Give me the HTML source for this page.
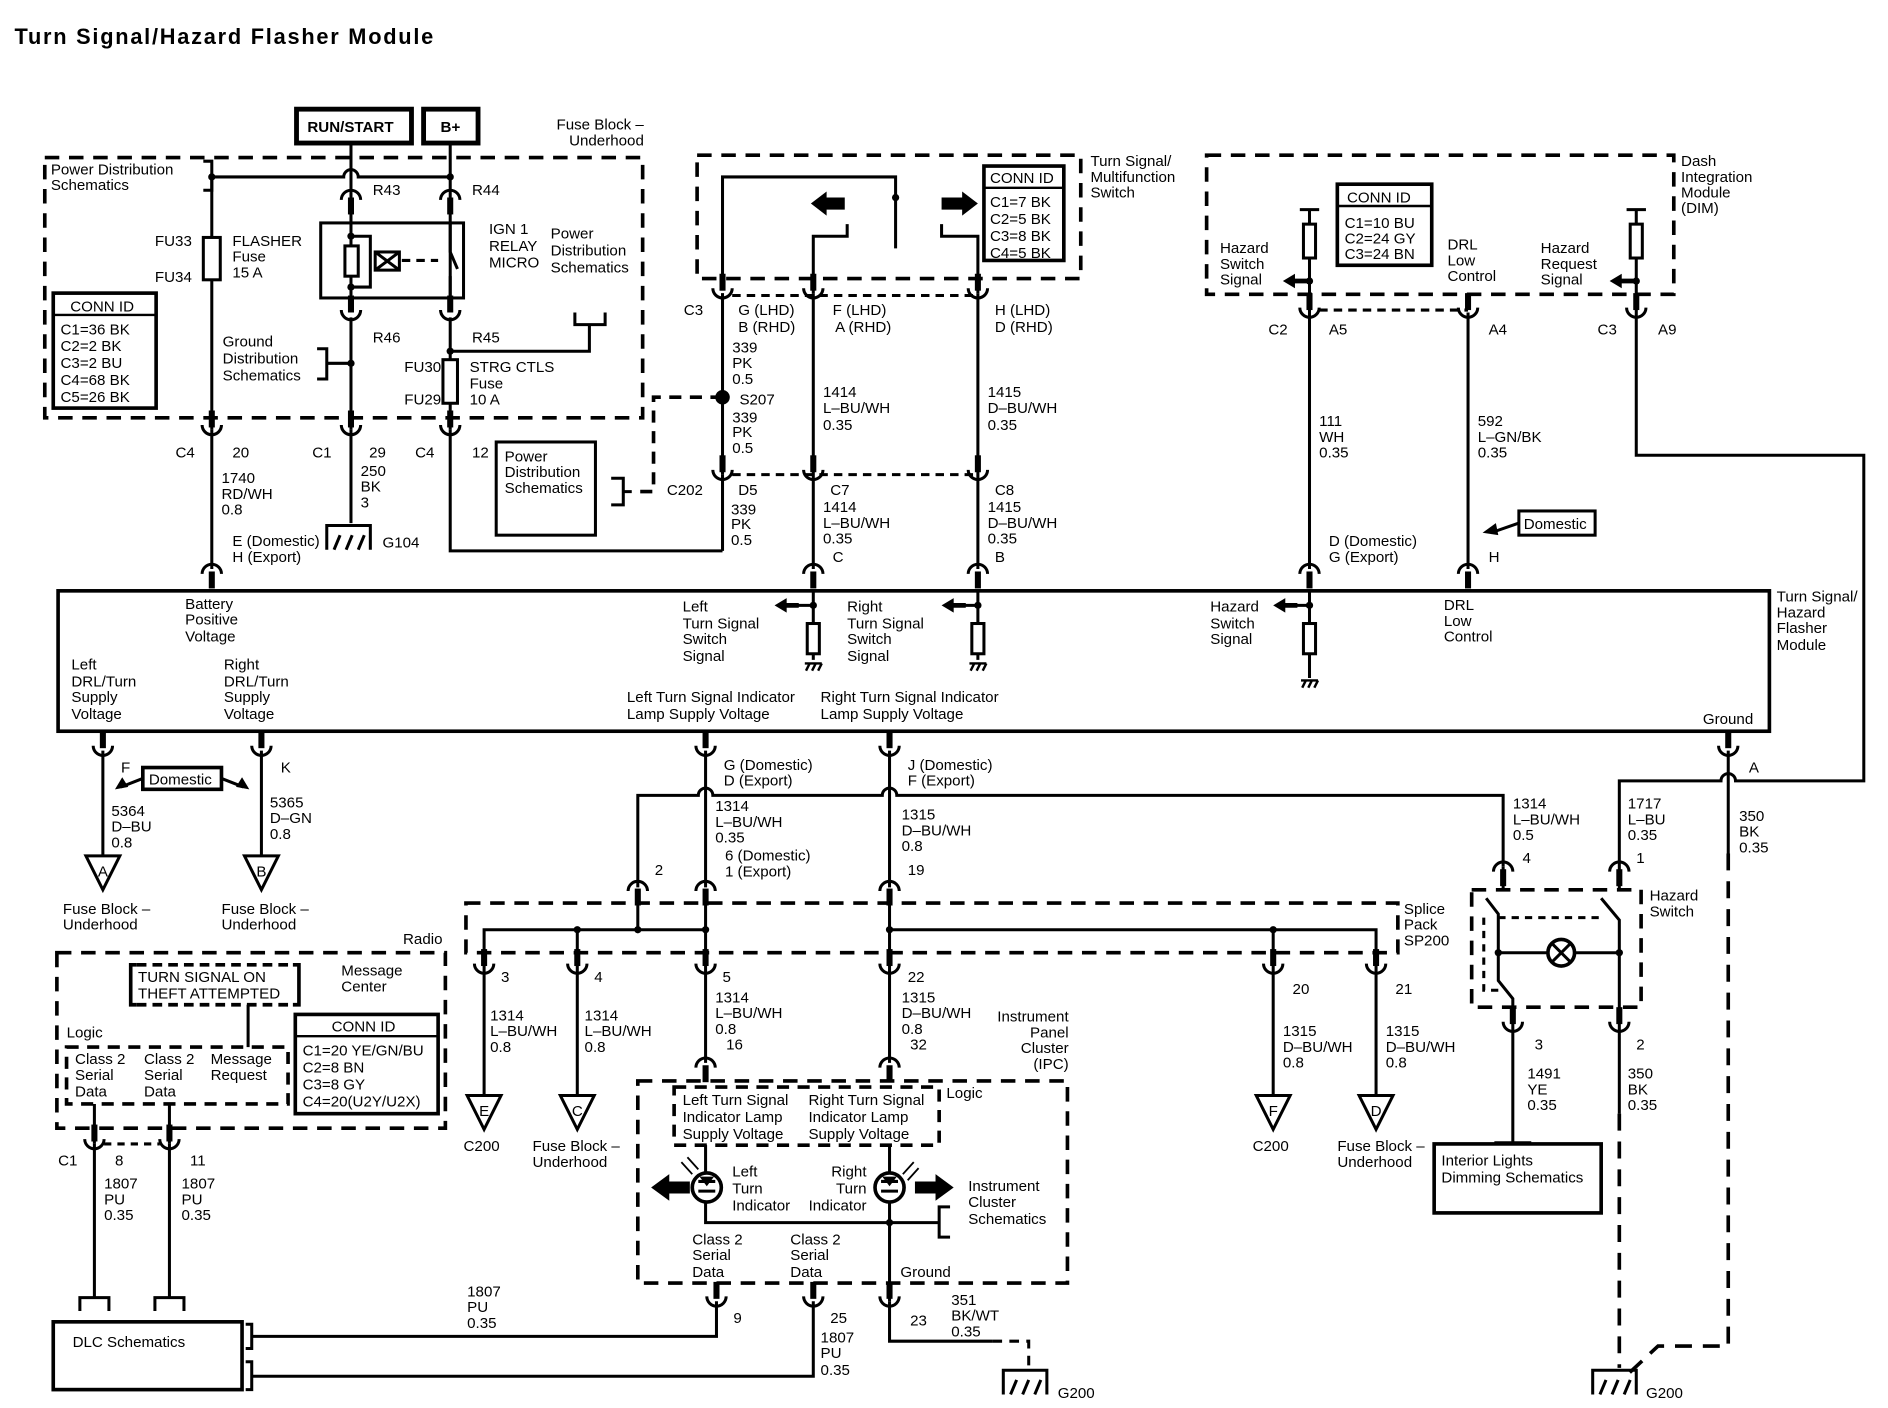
<!DOCTYPE html>
<html><head><meta charset="utf-8"><style>
html,body{margin:0;padding:0;background:#fff;}
svg{display:block;}
text{font-family:"Liberation Sans",sans-serif;font-size:12.5px;fill:#000;}
.b{font-weight:bold;}
</style></head><body>
<svg width="1888" height="1408" viewBox="0 0 1560 1163" xmlns="http://www.w3.org/2000/svg">
<defs>
<g id="cu"><path d="M-8,-6 A8,8 0 0 0 8,-6" fill="none" stroke="#000" stroke-width="2.5"/><rect x="-2.5" y="-18" width="5" height="14"/></g>
<g id="cn"><path d="M-8,6 A8,8 0 0 1 8,6" fill="none" stroke="#000" stroke-width="2.5"/><rect x="-2.5" y="4" width="5" height="14"/></g>
<g id="gnd"><path d="M-18,20 V0 H18 V20 M-12,20 l5,-12 M-2,20 l5,-12 M8,20 l5,-12" fill="none" stroke="#000" stroke-width="2.5"/></g>
<g id="sg"><path d="M-7,0 H7 M-6,6 l3,-6 M-1,6 l3,-6 M4,6 l3,-6" fill="none" stroke="#000" stroke-width="2"/></g>
<g id="tri"><path d="M-14,0 H14 L0,28 Z" fill="#fff" stroke="#000" stroke-width="2.5"/></g>
<g id="la"><path d="M0,0 L10,-6 V-2 H20 V2 H10 V6 Z"/></g>
</defs>
<g fill="none" stroke="#000" stroke-width="2.5">
<rect x="245" y="90" width="95" height="28" stroke-width="4"/>
<rect x="350" y="90" width="45" height="28" stroke-width="4"/>
<rect x="37" y="130" width="494" height="215" stroke-width="3" stroke-dasharray="12 8"/>
<path d="M168,133 H175 V157 H168"/>
<path d="M175,146 H284 A6,6 0 0 1 296,146 H372"/>
<path d="M290,118 V250 M372,118 V250"/>
<path d="M175,146 V355"/>
<rect x="168" y="196" width="14" height="35" fill="#fff"/>
<rect x="265" y="184" width="118" height="62"/>
<rect x="285" y="203" width="11" height="25" fill="#fff"/>
<path d="M290,195 H306 V237 H290"/>
<rect x="310" y="208" width="20" height="15"/>
<path d="M310,208 L330,223 M330,208 L310,223"/>
<path d="M332,215 H362" stroke-dasharray="7 5"/>
<path d="M372,184 V208 L378,222 M372,228 V246" fill="none"/>
<path d="M290,262 V355 M372,262 V355"/>
<path d="M262,288 H270 V313 H262 M270,300 H290"/>
<path d="M372,290 H487 V268 M475,258 V268 H500 V258"/>
<rect x="366" y="297" width="12" height="36" fill="#fff"/>
<rect x="44" y="242" width="85" height="95" stroke-width="3"/>
<path d="M44,260 H129" stroke-width="2"/>
<path d="M175,355 V470"/>
<path d="M290,355 V432"/>
<path d="M372,355 V455 H597"/>
<rect x="410" y="365" width="82" height="77" stroke-width="2.5"/>
<path d="M505,395 H515 V417 H505 M515,406 H522"/>
<path d="M597,328 H540 V406 H522" stroke-dasharray="10 7" stroke-width="3"/>
<rect x="576" y="128" width="317" height="102" stroke-width="3" stroke-dasharray="12 8"/>
<path d="M597,230 V146 H740 V205"/>
<path d="M672,242 V195 H700 V185"/>
<path d="M808,242 V195 H778 V185"/>
<rect x="813" y="137" width="66" height="78" stroke-width="3"/>
<path d="M813,155 H879" stroke-width="2"/>
<path d="M605,244 H808" stroke-dasharray="7 5"/>
<path d="M597,242 V392 M672,242 V470 M808,242 V470"/>
<path d="M605,392 H808" stroke-dasharray="7 5"/>
<path d="M597,392 V455"/>
<rect x="997" y="128" width="386" height="115" stroke-width="3" stroke-dasharray="12 8"/>
<rect x="1105" y="152" width="78" height="67" stroke-width="3"/>
<path d="M1105,170 H1183" stroke-width="2"/>
<path d="M1074,173 H1090 M1082,173 V470 M1344,173 H1360 M1352,173 V376 H1540 V645 H1434 A6,6 0 0 0 1422,645 H1338 V712"/>
<rect x="1077" y="185" width="10" height="28" fill="#fff"/>
<rect x="1347" y="185" width="10" height="28" fill="#fff"/>
<path d="M1082,232 H1068 M1352,232 H1338"/>
<path d="M1090,256 H1213" stroke-dasharray="7 5"/>
<path d="M1213,258 V470"/>
<rect x="1255" y="422" width="63" height="20" stroke-width="2.5"/>
<path d="M1255,432 L1232,440"/>
<rect x="48" y="488" width="1414" height="116" stroke-width="3"/>
<path d="M672,488 V545 M672,500 H650 M808,488 V545 M808,500 H790 M1082,488 V560 M1082,500 H1062"/>
<rect x="667" y="515" width="10" height="25" fill="#fff"/>
<rect x="803" y="515" width="10" height="25" fill="#fff"/>
<rect x="1077" y="515" width="10" height="25" fill="#fff"/>
<path d="M85,620 V707 M216,620 V707"/>
<rect x="118" y="634" width="65" height="18" stroke-width="3"/>
<path d="M118,643 L100,650 M183,643 L201,650"/>
<path d="M583,620 V733 M735,620 V733 M1428,620 V705"/>
<path d="M527,733 V657 H577 A6,6 0 0 1 589,657 H729 A6,6 0 0 1 741,657 H1242 V716"/>
<rect x="385" y="746" width="770" height="41" stroke-width="3" stroke-dasharray="12 8"/>
<path d="M400,800 V768 H583 M735,768 H1137 V800 M527,746 V768 M477,768 V800 M583,746 V800 M735,746 V800 M1052,768 V800"/>
<path d="M400,800 V905 M477,800 V905 M583,800 V878 M735,800 V878 M1052,800 V905 M1137,800 V905"/>
<rect x="47" y="787" width="321" height="145" stroke-width="3" stroke-dasharray="12 8"/>
<path d="M113,797 H108 V830 H113 M242,797 H247 V830 H242" stroke-width="3"/>
<path d="M113,797 H242 M113,830 H242" stroke-width="3" stroke-dasharray="8 5"/>
<path d="M205,830 V865"/>
<rect x="55" y="865" width="183" height="47" stroke-width="3" stroke-dasharray="10 7"/>
<rect x="244" y="838" width="118" height="82" stroke-width="3"/>
<path d="M244,856 H362" stroke-width="2"/>
<path d="M78,912 V945 M140,912 V945"/>
<path d="M86,945 H132" stroke-dasharray="6 5"/>
<path d="M78,945 V1072 M140,945 V1072 M66,1083 V1072 H90 V1083 M128,1083 V1072 H152 V1083"/>
<rect x="44" y="1092" width="156" height="56" stroke-width="3"/>
<path d="M203,1094 H208 V1114 H203 M203,1125 H208 V1148 H203"/>
<path d="M208,1104 H592 V1075 M208,1137 H672 V1075"/>
<rect x="527" y="893" width="355" height="167" stroke-width="3" stroke-dasharray="12 8"/>
<rect x="557" y="898" width="219" height="48" stroke-width="3" stroke-dasharray="10 7"/>
<path d="M583,946 V1010 H735 M735,946 V1075 M735,1010 H776 M785,997 H776 V1022 H785"/>
<circle cx="584" cy="981" r="12" stroke-width="3" fill="#fff"/>
<circle cx="735" cy="981" r="12" stroke-width="3" fill="#fff"/>
<path d="M577,976 H591 M577,984 H591 M728,976 H742 M728,984 H742"/>
<path d="M563,960 L572,970 M568,956 L577,966 M746,970 L755,960 M750,975 L759,965" stroke-width="1.5"/>
<path d="M735,1075 V1108 H820"/>
<path d="M820,1108 H850 V1130" stroke-dasharray="8 6"/>
<rect x="1216" y="735" width="140" height="97" stroke-width="3" stroke-dasharray="12 8"/>
<path d="M1242,716 V735 M1338,712 V735"/>
<path d="M1228,742 L1238,755 V810 L1250,825 V848"/>
<path d="M1323,742 L1338,760 V848"/>
<path d="M1226,758 V818 H1238 M1238,758 H1325" stroke-dasharray="6 5"/>
<path d="M1238,787 H1279 M1301,787 H1338"/>
<circle cx="1290" cy="787" r="11" stroke-width="3"/>
<path d="M1282,779 L1298,795 M1298,779 L1282,795"/>
<path d="M1250,848 V944"/>
<path d="M1236,955 V944 H1264 V955"/>
<rect x="1185" y="945" width="138" height="57" stroke-width="3" fill="#fff"/>
<path d="M1338,848 V920"/>
<path d="M1338,920 V1130" stroke-dasharray="14 9" stroke-width="3"/>
<path d="M1428,705 V1112 H1370 L1340,1140" stroke-dasharray="14 9" stroke-width="3"/>
</g>
<g fill="#000">
<circle cx="175" cy="146" r="3"/><circle cx="372" cy="146" r="3"/><circle cx="290" cy="195" r="3"/><circle cx="290" cy="237" r="3"/>
<circle cx="290" cy="300" r="3"/><circle cx="372" cy="290" r="3"/>
<circle cx="597" cy="328" r="6"/><circle cx="740" cy="163" r="3"/>
<circle cx="1082" cy="232" r="3"/><circle cx="1352" cy="232" r="3"/>
<circle cx="672" cy="500" r="3"/><circle cx="808" cy="500" r="3"/><circle cx="1082" cy="500" r="3"/>
<circle cx="477" cy="768" r="3"/><circle cx="527" cy="768" r="3"/><circle cx="583" cy="768" r="3"/><circle cx="735" cy="768" r="3"/><circle cx="1052" cy="768" r="3"/>
<circle cx="735" cy="1010" r="3"/><circle cx="1238" cy="787" r="3"/><circle cx="1338" cy="787" r="3"/>
<path d="M670,168 L683,158 V163 H698 V173 H683 V178 Z"/>
<path d="M808,168 L795,158 V163 H778 V173 H795 V178 Z"/>
<use href="#la" x="1060" y="232"/><use href="#la" x="1330" y="232"/>
<use href="#la" x="640" y="500"/><use href="#la" x="778" y="500"/><use href="#la" x="1052" y="500"/>
<path d="M1225,440 L1236,432 L1238,442 Z"/>
<path d="M95,652 L101,642 L106,650 Z M206,652 L200,642 L195,650 Z"/>
<path d="M538,981 L553,970 V976 H570 V986 H553 V992 Z"/>
<path d="M788,981 L773,970 V976 H756 V986 H773 V992 Z"/>
<path d="M578,972 H590 L584,980 Z M729,972 H741 L735,980 Z"/>
</g>
<use href="#cu" x="290" y="262"/><use href="#cu" x="372" y="262"/>
<use href="#cn" x="290" y="159"/><use href="#cn" x="372" y="159"/>
<use href="#cu" x="175" y="357"/><use href="#cu" x="290" y="357"/><use href="#cu" x="372" y="357"/>
<use href="#cn" x="175" y="468"/><use href="#cn" x="672" y="468"/><use href="#cn" x="808" y="468"/><use href="#cn" x="1082" y="468"/><use href="#cn" x="1213" y="468"/>
<use href="#cu" x="597" y="244"/><use href="#cu" x="672" y="244"/><use href="#cu" x="808" y="244"/>
<use href="#cu" x="597" y="394"/><use href="#cu" x="672" y="394"/><use href="#cu" x="808" y="394"/>
<use href="#cu" x="1082" y="260"/><use href="#cu" x="1213" y="260"/><use href="#cu" x="1352" y="260"/>
<use href="#cu" x="85" y="622"/><use href="#cu" x="216" y="622"/><use href="#cu" x="583" y="622"/><use href="#cu" x="735" y="622"/><use href="#cu" x="1428" y="622"/>
<use href="#cn" x="527" y="730"/><use href="#cn" x="583" y="730"/><use href="#cn" x="735" y="730"/>
<use href="#cu" x="400" y="802"/><use href="#cu" x="477" y="802"/><use href="#cu" x="583" y="802"/><use href="#cu" x="735" y="802"/><use href="#cu" x="1052" y="802"/><use href="#cu" x="1137" y="802"/>
<use href="#cn" x="583" y="876"/><use href="#cn" x="735" y="876"/>
<use href="#cu" x="78" y="947"/><use href="#cu" x="140" y="947"/>
<use href="#cu" x="592" y="1077"/><use href="#cu" x="672" y="1077"/><use href="#cu" x="735" y="1077"/>
<use href="#cn" x="1242" y="714"/><use href="#cn" x="1338" y="714"/>
<use href="#cu" x="1250" y="850"/><use href="#cu" x="1338" y="850"/>
<use href="#gnd" x="288" y="434"/><use href="#gnd" x="847" y="1132"/><use href="#gnd" x="1334" y="1132"/>
<use href="#sg" x="672" y="548"/><use href="#sg" x="808" y="548"/><use href="#sg" x="1082" y="562"/>
<use href="#tri" x="85" y="707"/><use href="#tri" x="216" y="707"/><use href="#tri" x="400" y="905"/><use href="#tri" x="477" y="905"/><use href="#tri" x="1052" y="905"/><use href="#tri" x="1137" y="905"/>
<text x="12" y="36" class="b" style="font-size:18px" textLength="346">Turn Signal/Hazard Flasher Module</text>
<text x="254" y="109" class="b">RUN/START</text><text x="364" y="109" class="b">B+</text>
<text x="532" y="107" text-anchor="end">Fuse Block –</text><text x="532" y="120" text-anchor="end">Underhood</text>
<text x="42" y="144">Power Distribution</text><text x="42" y="157">Schematics</text>
<text x="308" y="161">R43</text><text x="390" y="161">R44</text>
<text x="128" y="203">FU33</text><text x="128" y="233">FU34</text>
<text x="192" y="203">FLASHER</text><text x="192" y="216">Fuse</text><text x="192" y="229">15 A</text>
<text x="404" y="193">IGN 1</text><text x="404" y="207">RELAY</text><text x="404" y="221">MICRO</text>
<text x="455" y="197">Power</text><text x="455" y="211">Distribution</text><text x="455" y="225">Schematics</text>
<text x="58" y="257">CONN ID</text>
<text x="50" y="276">C1=36 BK</text><text x="50" y="290">C2=2 BK</text><text x="50" y="304">C3=2 BU</text><text x="50" y="318">C4=68 BK</text><text x="50" y="332">C5=26 BK</text>
<text x="308" y="283">R46</text><text x="390" y="283">R45</text>
<text x="184" y="286">Ground</text><text x="184" y="300">Distribution</text><text x="184" y="314">Schematics</text>
<text x="334" y="307">FU30</text><text x="334" y="334">FU29</text>
<text x="388" y="307">STRG CTLS</text><text x="388" y="321">Fuse</text><text x="388" y="334">10 A</text>
<text x="145" y="378">C4</text><text x="192" y="378">20</text><text x="258" y="378">C1</text><text x="305" y="378">29</text><text x="343" y="378">C4</text><text x="390" y="378">12</text>
<text x="183" y="399">1740</text><text x="183" y="412">RD/WH</text><text x="183" y="425">0.8</text>
<text x="298" y="393">250</text><text x="298" y="406">BK</text><text x="298" y="419">3</text>
<text x="192" y="451">E (Domestic)</text><text x="192" y="464">H (Export)</text><text x="316" y="452">G104</text>
<text x="417" y="381">Power</text><text x="417" y="394">Distribution</text><text x="417" y="407">Schematics</text>
<text x="818" y="151">CONN ID</text>
<text x="818" y="171">C1=7 BK</text><text x="818" y="185">C2=5 BK</text><text x="818" y="199">C3=8 BK</text><text x="818" y="213">C4=5 BK</text>
<text x="901" y="137">Turn Signal/</text><text x="901" y="150">Multifunction</text><text x="901" y="163">Switch</text>
<text x="565" y="260">C3</text><text x="610" y="260">G (LHD)</text><text x="610" y="274">B (RHD)</text>
<text x="688" y="260">F (LHD)</text><text x="690" y="274">A (RHD)</text><text x="822" y="260">H (LHD)</text><text x="822" y="274">D (RHD)</text>
<text x="605" y="291">339</text><text x="605" y="304">PK</text><text x="605" y="317">0.5</text>
<text x="611" y="334">S207</text>
<text x="605" y="349">339</text><text x="605" y="361">PK</text><text x="605" y="374">0.5</text>
<text x="680" y="328">1414</text><text x="680" y="341">L–BU/WH</text><text x="680" y="355">0.35</text>
<text x="816" y="328">1415</text><text x="816" y="341">D–BU/WH</text><text x="816" y="355">0.35</text>
<text x="551" y="409">C202</text><text x="610" y="409">D5</text><text x="686" y="409">C7</text><text x="822" y="409">C8</text>
<text x="604" y="425">339</text><text x="604" y="437">PK</text><text x="604" y="450">0.5</text>
<text x="680" y="423">1414</text><text x="680" y="436">L–BU/WH</text><text x="680" y="449">0.35</text><text x="688" y="464">C</text>
<text x="816" y="423">1415</text><text x="816" y="436">D–BU/WH</text><text x="816" y="449">0.35</text><text x="822" y="464">B</text>
<text x="1113" y="167">CONN ID</text>
<text x="1111" y="188">C1=10 BU</text><text x="1111" y="201">C2=24 GY</text><text x="1111" y="214">C3=24 BN</text>
<text x="1389" y="137">Dash</text><text x="1389" y="150">Integration</text><text x="1389" y="163">Module</text><text x="1389" y="176">(DIM)</text>
<text x="1008" y="209">Hazard</text><text x="1008" y="222">Switch</text><text x="1008" y="235">Signal</text>
<text x="1196" y="206">DRL</text><text x="1196" y="219">Low</text><text x="1196" y="232">Control</text>
<text x="1273" y="209">Hazard</text><text x="1273" y="222">Request</text><text x="1273" y="235">Signal</text>
<text x="1048" y="276">C2</text><text x="1098" y="276">A5</text><text x="1230" y="276">A4</text><text x="1320" y="276">C3</text><text x="1370" y="276">A9</text>
<text x="1090" y="352">111</text><text x="1090" y="365">WH</text><text x="1090" y="378">0.35</text>
<text x="1221" y="352">592</text><text x="1221" y="365">L–GN/BK</text><text x="1221" y="378">0.35</text>
<text x="1098" y="451">D (Domestic)</text><text x="1098" y="464">G (Export)</text><text x="1230" y="464">H</text>
<text x="1259" y="437">Domestic</text>
<text x="1468" y="497">Turn Signal/</text><text x="1468" y="510">Hazard</text><text x="1468" y="523">Flasher</text><text x="1468" y="537">Module</text>
<text x="153" y="503">Battery</text><text x="153" y="516">Positive</text><text x="153" y="530">Voltage</text>
<text x="59" y="553">Left</text><text x="59" y="567">DRL/Turn</text><text x="59" y="580">Supply</text><text x="59" y="594">Voltage</text>
<text x="185" y="553">Right</text><text x="185" y="567">DRL/Turn</text><text x="185" y="580">Supply</text><text x="185" y="594">Voltage</text>
<text x="564" y="505">Left</text><text x="564" y="519">Turn Signal</text><text x="564" y="532">Switch</text><text x="564" y="546">Signal</text>
<text x="700" y="505">Right</text><text x="700" y="519">Turn Signal</text><text x="700" y="532">Switch</text><text x="700" y="546">Signal</text>
<text x="1000" y="505">Hazard</text><text x="1000" y="519">Switch</text><text x="1000" y="532">Signal</text>
<text x="1193" y="504">DRL</text><text x="1193" y="517">Low</text><text x="1193" y="530">Control</text>
<text x="518" y="580">Left Turn Signal Indicator</text><text x="518" y="594">Lamp Supply Voltage</text>
<text x="678" y="580">Right Turn Signal Indicator</text><text x="678" y="594">Lamp Supply Voltage</text>
<text x="1407" y="598">Ground</text>
<text x="100" y="638">F</text><text x="232" y="638">K</text><text x="123" y="648">Domestic</text>
<text x="92" y="674">5364</text><text x="92" y="687">D–BU</text><text x="92" y="700">0.8</text>
<text x="223" y="667">5365</text><text x="223" y="680">D–GN</text><text x="223" y="693">0.8</text>
<text x="85" y="724" text-anchor="middle">A</text><text x="216" y="724" text-anchor="middle">B</text>
<text x="400" y="922" text-anchor="middle">E</text><text x="477" y="922" text-anchor="middle">C</text>
<text x="1052" y="922" text-anchor="middle">F</text><text x="1137" y="922" text-anchor="middle">D</text>
<text x="52" y="755">Fuse Block –</text><text x="52" y="768">Underhood</text>
<text x="183" y="755">Fuse Block –</text><text x="183" y="768">Underhood</text>
<text x="598" y="636">G (Domestic)</text><text x="598" y="649">D (Export)</text>
<text x="750" y="636">J (Domestic)</text><text x="750" y="649">F (Export)</text>
<text x="591" y="670">1314</text><text x="591" y="683">L–BU/WH</text><text x="591" y="696">0.35</text>
<text x="599" y="711">6 (Domestic)</text><text x="599" y="724">1 (Export)</text><text x="541" y="723">2</text>
<text x="745" y="677">1315</text><text x="745" y="690">D–BU/WH</text><text x="745" y="703">0.8</text><text x="750" y="723">19</text>
<text x="1250" y="668">1314</text><text x="1250" y="681">L–BU/WH</text><text x="1250" y="694">0.5</text>
<text x="1345" y="668">1717</text><text x="1345" y="681">L–BU</text><text x="1345" y="694">0.35</text>
<text x="1437" y="678">350</text><text x="1437" y="691">BK</text><text x="1437" y="704">0.35</text><text x="1445" y="638">A</text>
<text x="1258" y="713">4</text><text x="1352" y="713">1</text>
<text x="1363" y="744">Hazard</text><text x="1363" y="757">Switch</text>
<text x="1160" y="755">Splice</text><text x="1160" y="768">Pack</text><text x="1160" y="781">SP200</text>
<text x="333" y="780">Radio</text>
<text x="414" y="811">3</text><text x="491" y="811">4</text><text x="597" y="811">5</text><text x="750" y="811">22</text><text x="1068" y="821">20</text><text x="1153" y="821">21</text>
<text x="405" y="843">1314</text><text x="405" y="856">L–BU/WH</text><text x="405" y="869">0.8</text>
<text x="483" y="843">1314</text><text x="483" y="856">L–BU/WH</text><text x="483" y="869">0.8</text>
<text x="591" y="828">1314</text><text x="591" y="841">L–BU/WH</text><text x="591" y="854">0.8</text><text x="600" y="867">16</text>
<text x="745" y="828">1315</text><text x="745" y="841">D–BU/WH</text><text x="745" y="854">0.8</text><text x="752" y="867">32</text>
<text x="1060" y="856">1315</text><text x="1060" y="869">D–BU/WH</text><text x="1060" y="882">0.8</text>
<text x="1145" y="856">1315</text><text x="1145" y="869">D–BU/WH</text><text x="1145" y="882">0.8</text>
<text x="383" y="951">C200</text><text x="440" y="951">Fuse Block –</text><text x="440" y="964">Underhood</text>
<text x="1035" y="951">C200</text><text x="1105" y="951">Fuse Block –</text><text x="1105" y="964">Underhood</text>
<text x="883" y="844" text-anchor="end">Instrument</text><text x="883" y="857" text-anchor="end">Panel</text><text x="883" y="870" text-anchor="end">Cluster</text><text x="883" y="883" text-anchor="end">(IPC)</text>
<text x="782" y="907">Logic</text>
<text x="564" y="913">Left Turn Signal</text><text x="564" y="927">Indicator Lamp</text><text x="564" y="941">Supply Voltage</text>
<text x="668" y="913">Right Turn Signal</text><text x="668" y="927">Indicator Lamp</text><text x="668" y="941">Supply Voltage</text>
<text x="605" y="972">Left</text><text x="605" y="986">Turn</text><text x="605" y="1000">Indicator</text>
<text x="716" y="972" text-anchor="end">Right</text><text x="716" y="986" text-anchor="end">Turn</text><text x="716" y="1000" text-anchor="end">Indicator</text>
<text x="800" y="984">Instrument</text><text x="800" y="997">Cluster</text><text x="800" y="1011">Schematics</text>
<text x="572" y="1028">Class 2</text><text x="572" y="1041">Serial</text><text x="572" y="1055">Data</text>
<text x="653" y="1028">Class 2</text><text x="653" y="1041">Serial</text><text x="653" y="1055">Data</text>
<text x="744" y="1055">Ground</text>
<text x="606" y="1093">9</text><text x="686" y="1093">25</text><text x="752" y="1095">23</text>
<text x="786" y="1078">351</text><text x="786" y="1091">BK/WT</text><text x="786" y="1104">0.35</text>
<text x="678" y="1109">1807</text><text x="678" y="1122">PU</text><text x="678" y="1136">0.35</text>
<text x="386" y="1071">1807</text><text x="386" y="1084">PU</text><text x="386" y="1097">0.35</text>
<text x="874" y="1155">G200</text><text x="1360" y="1155">G200</text>
<text x="1268" y="867">3</text><text x="1352" y="867">2</text>
<text x="1262" y="891">1491</text><text x="1262" y="904">YE</text><text x="1262" y="917">0.35</text>
<text x="1345" y="891">350</text><text x="1345" y="904">BK</text><text x="1345" y="917">0.35</text>
<text x="1191" y="963">Interior Lights</text><text x="1191" y="977">Dimming Schematics</text>
<text x="282" y="806">Message</text><text x="282" y="819">Center</text>
<text x="114" y="811">TURN SIGNAL ON</text><text x="114" y="825">THEFT ATTEMPTED</text>
<text x="55" y="857">Logic</text>
<text x="62" y="879">Class 2</text><text x="62" y="892">Serial</text><text x="62" y="906">Data</text>
<text x="119" y="879">Class 2</text><text x="119" y="892">Serial</text><text x="119" y="906">Data</text>
<text x="174" y="879">Message</text><text x="174" y="892">Request</text>
<text x="274" y="852">CONN ID</text>
<text x="250" y="872">C1=20 YE/GN/BU</text><text x="250" y="886">C2=8 BN</text><text x="250" y="900">C3=8 GY</text><text x="250" y="914">C4=20(U2Y/U2X)</text>
<text x="48" y="963">C1</text><text x="95" y="963">8</text><text x="157" y="963">11</text>
<text x="86" y="982">1807</text><text x="86" y="995">PU</text><text x="86" y="1008">0.35</text>
<text x="150" y="982">1807</text><text x="150" y="995">PU</text><text x="150" y="1008">0.35</text>
<text x="60" y="1113">DLC Schematics</text>
</svg>
</body></html>
